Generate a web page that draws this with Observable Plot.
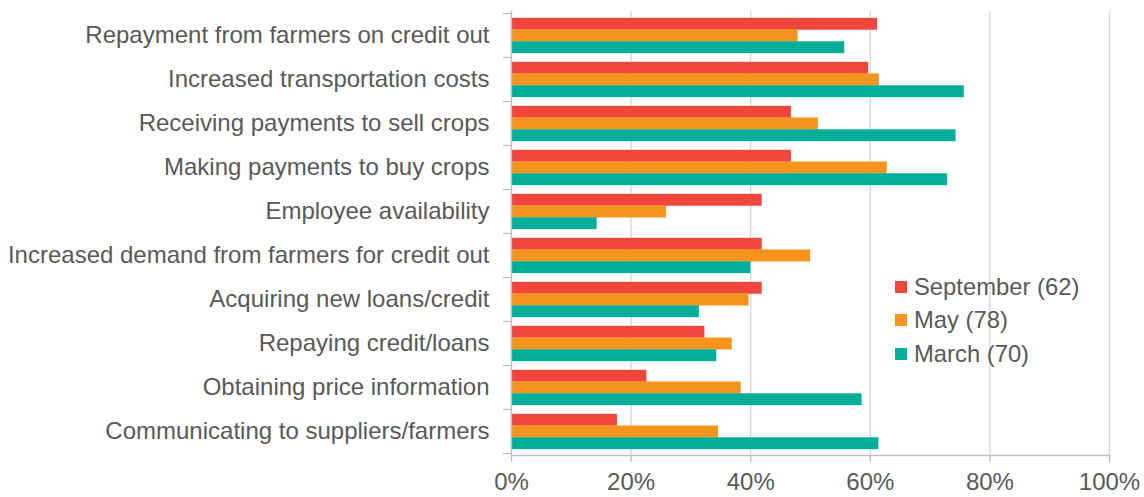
<!DOCTYPE html>
<html><head><meta charset="utf-8">
<script src="https://cdn.jsdelivr.net/npm/d3@7"></script>
<script src="https://cdn.jsdelivr.net/npm/@observablehq/plot@0.6"></script>
<style>
body{margin:0;background:#fff;}
#wrap{position:relative;width:1144px;height:497px;font-family:"Liberation Sans",Arial,sans-serif;}
.legend{position:absolute;left:895px;top:270px;font-size:23.8px;color:#595959;line-height:1;}
.item{display:flex;align-items:center;height:33.5px;}
.sw{width:12px;height:12px;margin-right:7px;flex:none;}
</style></head><body><div id="wrap"></div>
<script>
const categories = [
  "Repayment from farmers on credit out",
  "Increased transportation costs",
  "Receiving payments to sell crops",
  "Making payments to buy crops",
  "Employee availability",
  "Increased demand from farmers for credit out",
  "Acquiring new loans/credit",
  "Repaying credit/loans",
  "Obtaining price information",
  "Communicating to suppliers/farmers"
];
const september = [61.2, 59.7, 46.8, 46.8, 41.9, 41.9, 41.9, 32.3, 22.6, 17.7];
const may       = [47.9, 61.5, 51.3, 62.8, 25.9, 50.0, 39.7, 36.9, 38.4, 34.6];
const march     = [55.7, 75.7, 74.3, 72.9, 14.3, 40.0, 31.4, 34.3, 58.6, 61.4];
const seriesNames = ["September (62)", "May (78)", "March (70)"];
const colors = ["#F0463D", "#F7941E", "#00AE9A"];
const xTicks = [0, 20, 40, 60, 80, 100];

const seriesValues = [september, may, march];
const bw = 35.08;
const third = bw / 3;

const barMarks = seriesValues.map((vals, i) =>
  Plot.barX(categories.map((c, j) => ({category: c, value: vals[j]})), {
    x: "value", y: "category", fill: colors[i],
    insetTop: i * third, insetBottom: (2 - i) * third,
    stroke: colors[i], strokeOpacity: 0.5, strokeWidth: 0.6
  })
);

const plot = Plot.plot({
  width: 1144, height: 497,
  marginLeft: 511, marginRight: 35, marginTop: 11, marginBottom: 42,
  style: {fontFamily: '"Liberation Sans", Arial, sans-serif', fontSize: "24px", color: "#595959", background: "#fff", overflow: "visible"},
  x: {domain: [0, 100], axis: null, label: null},
  y: {domain: categories, paddingInner: 0.21, paddingOuter: 0.105, axis: null, label: null},
  marks: [
    Plot.gridX(xTicks.slice(1), {stroke: "#d9d9d9", strokeOpacity: 1, strokeWidth: 1.4}),
    ...barMarks,
    Plot.frame({anchor: "left", stroke: "#bfbfbf", strokeWidth: 1.3}),
    Plot.frame({anchor: "bottom", stroke: "#bfbfbf", strokeWidth: 1.3}),
    Plot.axisX({ticks: xTicks, tickSize: 7, tickPadding: 10, tickFormat: d => d + "%", stroke: "#bfbfbf", strokeWidth: 1.3, fill: "#595959", label: null}),
    Plot.axisY({tickSize: 0, tickPadding: 22, dy: -1, fill: "#595959", label: null})
  ]
});

// category boundary ticks on the left axis, from the plot's own y scale
const ys = plot.scale("y");
const off = (ys.step - ys.bandwidth) / 2;
const bounds = categories.map(c => ys.apply(c) - off);
bounds.push(ys.apply(categories[categories.length - 1]) + ys.bandwidth + off);
const xs = plot.scale("x");
const x0 = xs.apply(0);
d3.select(plot).append("g")
  .selectAll("line").data(bounds).join("line")
  .attr("x1", x0 - 8).attr("x2", x0).attr("y1", d => d).attr("y2", d => d)
  .attr("stroke", "#bfbfbf").attr("stroke-width", 1.3);

const wrap = document.getElementById("wrap");
wrap.appendChild(plot);

const legend = document.createElement("div");
legend.className = "legend";
seriesNames.forEach((n, i) => {
  const it = document.createElement("div");
  it.className = "item";
  const sw = document.createElement("span");
  sw.className = "sw";
  sw.style.background = colors[i];
  const t = document.createElement("span");
  t.textContent = n;
  it.appendChild(sw); it.appendChild(t);
  legend.appendChild(it);
});
wrap.appendChild(legend);
</script></body></html>
